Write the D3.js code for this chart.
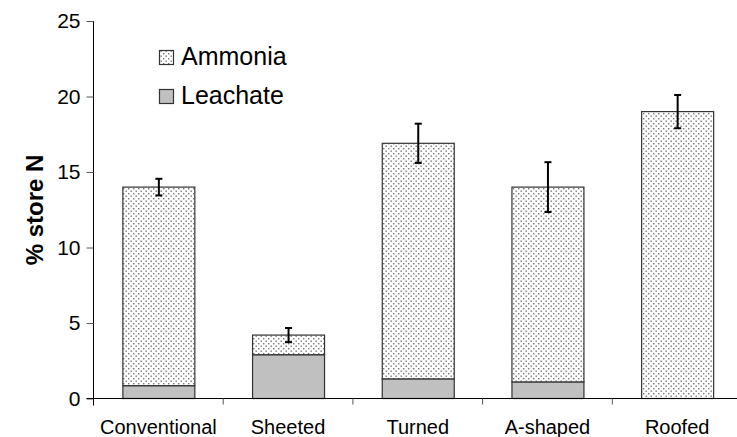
<!DOCTYPE html>
<html><head><meta charset="utf-8">
<script src="https://cdn.jsdelivr.net/npm/d3@7"></script>
<style>html,body{margin:0;padding:0;background:#fff;}svg{display:block;font-family:"Liberation Sans",Arial,sans-serif;}</style>
</head><body>
<svg id="c" width="737" height="437"></svg>
<script>
const categories = ["Conventional","Sheeted","Turned","A-shaped","Roofed"];
const leachate = [0.85, 2.9, 1.3, 1.1, 0];
const ammonia = [13.15, 1.3, 15.6, 12.9, 19.0];
const errors = [0.55, 0.47, 1.3, 1.65, 1.1];
const yTicks = [0,5,10,15,20,25];
const seriesNames = ["Ammonia","Leachate"];

const svg = d3.select("#c");
const x0 = 93.5, x1 = 742, yB = 398.5, yT = 21;
const x = d3.scaleBand().domain(categories).range([x0, x1]).padding(0);
const y = d3.scaleLinear().domain([0,25]).range([yB, yT]);
const barW = x.bandwidth()*0.555;

const defs = svg.append("defs");
const pat = defs.append("pattern").attr("id","dots").attr("patternUnits","userSpaceOnUse")
  .attr("width",5).attr("height",5);
pat.append("rect").attr("width",5).attr("height",5).attr("fill","#fff");
pat.append("rect").attr("x",0.5).attr("y",0.5).attr("width",1.4).attr("height",1.4).attr("fill","#777");
pat.append("rect").attr("x",3).attr("y",3).attr("width",1.4).attr("height",1.4).attr("fill","#777");

const stacks = categories.map((c,i)=>({c, l:leachate[i], a:ammonia[i], e:errors[i]}));
const g = svg.append("g");
stacks.forEach(d=>{
  const bx = x(d.c) + (x.bandwidth()-barW)/2 + 0.5;
  if (d.l>0) g.append("rect").attr("x",bx).attr("y",y(d.l)).attr("width",barW).attr("height",y(0)-y(d.l))
    .attr("fill","#c0c0c0").attr("stroke","#333").attr("stroke-width",1.2);
  g.append("rect").attr("x",bx).attr("y",y(d.l+d.a)).attr("width",barW).attr("height",y(d.l)-y(d.l+d.a))
    .attr("fill","url(#dots)").attr("stroke","#333").attr("stroke-width",1.2);
  const cx = bx + barW/2;
  const t = d.l+d.a;
  g.append("line").attr("x1",cx).attr("x2",cx).attr("y1",y(t+d.e)).attr("y2",y(t-d.e)).attr("stroke","#000").attr("stroke-width",2);
  [t+d.e, t-d.e].forEach(v=>g.append("line").attr("x1",cx-3.5).attr("x2",cx+3.5).attr("y1",y(v)).attr("y2",y(v)).attr("stroke","#000").attr("stroke-width",2));
});

// y axis
const ya = svg.append("g").attr("transform",`translate(${x0},0)`)
  .call(d3.axisLeft(y).tickValues(yTicks).tickSize(7).tickPadding(6).tickFormat(d3.format("d")));
ya.attr("font-family",null);
ya.select(".domain").attr("d",`M0,${yT}V${yB+7}`).attr("stroke","#000");
ya.selectAll(".tick line").attr("stroke","#555");
ya.selectAll("text").attr("font-size",21).attr("fill","#000");

// x axis
const xa = svg.append("g").attr("transform",`translate(0,${yB})`);
xa.append("line").attr("x1",x0-7).attr("x2",x1).attr("y1",0).attr("y2",0).attr("stroke","#000");
categories.slice(1).forEach(c=>xa.append("line").attr("x1",x(c)).attr("x2",x(c)).attr("y1",0).attr("y2",6).attr("stroke","#555"));
categories.forEach(c=>xa.append("text").attr("x",x(c)+x.bandwidth()/2).attr("y",35.5).attr("text-anchor","middle")
  .attr("font-size",20).attr("fill","#000").text(c));

// y title
svg.append("text").attr("transform","translate(43,210) rotate(-90)").attr("text-anchor","middle")
  .attr("font-size",24).attr("font-weight","bold").text("% store N");

// legend
const leg = svg.append("g");
const fills = ["url(#dots)","#c0c0c0"];
seriesNames.forEach((s,i)=>{
  const yy = 50 + i*39;
  leg.append("rect").attr("x",159.5).attr("y",yy+0.5).attr("width",14).attr("height",14).attr("fill",fills[i]).attr("stroke","#333").attr("stroke-width",1.2);
  leg.append("text").attr("x",181).attr("y",yy+15).attr("font-size",25).attr("fill","#000").text(s);
});
</script>
</body></html>
